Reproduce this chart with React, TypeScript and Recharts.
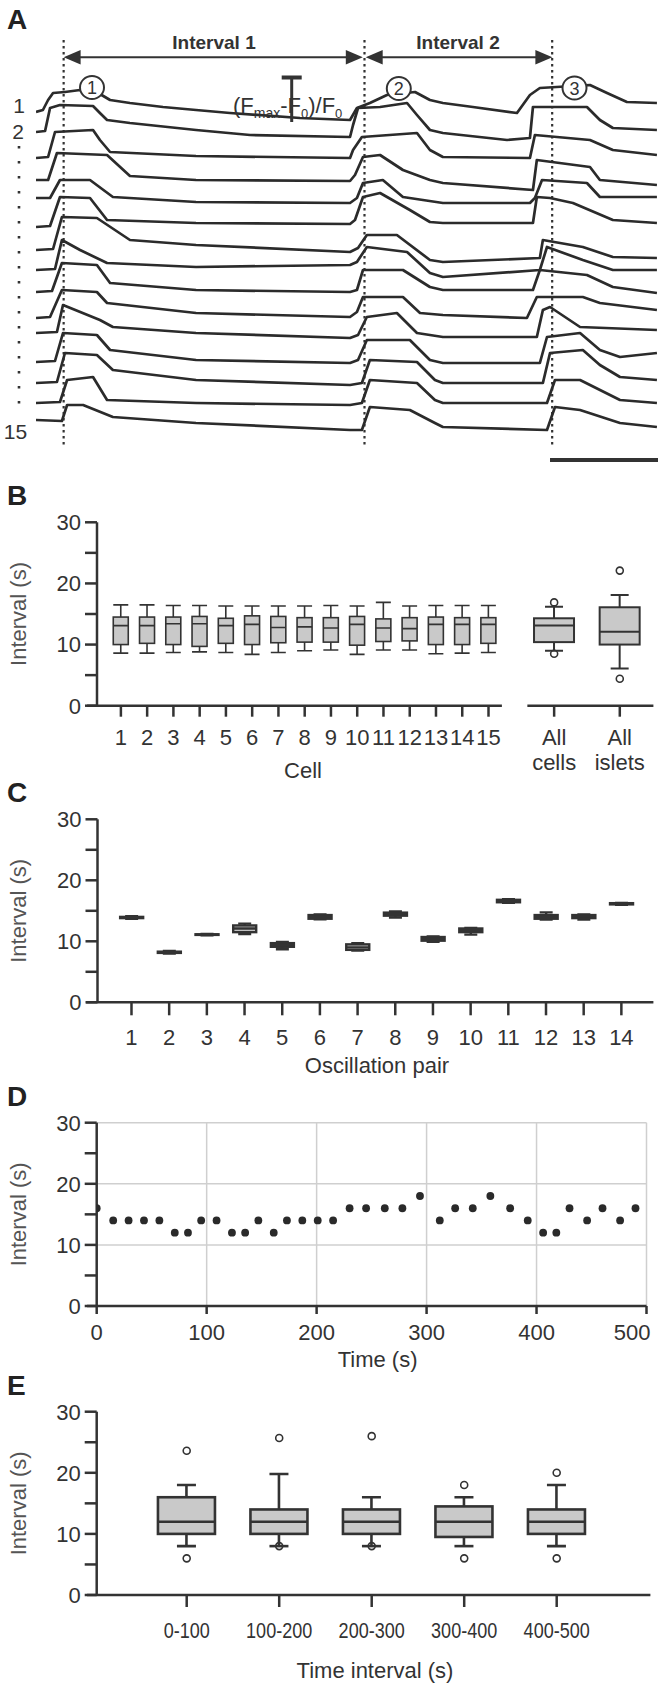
import React from "react"
import { ComposedChart, LineChart, Line, Bar, Scatter, XAxis, YAxis, CartesianGrid, ReferenceLine } from "recharts"

const FONT = "'Liberation Sans', Arial, Helvetica, sans-serif"
const INK = "#333"
const TRACE = "#2b2b2b"
const BOX_FILL = "#c9c9c9"

// ---------- A: Ca2+ traces, [time (s), dF/F (a.u.)] ----------
const trace1 = [[0,0],[0.32,2],[0.56,12],[0.79,19],[1.34,20],[2.04,22],[2.96,18],[3.43,12],[4.35,9],[5.88,5],[7.41,2],[8.98,-1],[12.22,-6],[14.54,-8],[14.86,4],[15.46,9],[16.25,17],[17.55,20],[18.24,12],[18.84,9],[20.23,5],[22.27,-1],[22.87,17],[23.33,24],[25.65,27],[26.44,19],[27.36,10],[28.75,9]]
const trace2 = [[0,2],[0.42,3],[0.65,26],[1.11,29],[2.64,28],[2.96,21],[3.29,14],[4.35,11],[7.41,4],[9.91,-1],[14.54,-3],[14.68,9],[14.91,26],[15.93,27],[17.18,31],[17.64,19],[18.24,4],[18.84,1],[21.81,-6],[22.87,-4],[23.01,27],[25.51,27],[26.11,14],[26.71,6],[28.75,4]]
const trace3 = [[0,-2],[0.56,-1],[0.88,24],[2.64,26],[2.96,16],[3.43,4],[7.41,0],[14.54,-2],[14.68,6],[15.09,19],[17.64,23],[18.24,6],[18.84,-1],[22.87,-2],[23.1,21],[25.65,16],[26.71,6],[28.75,1]]
const trace4 = [[0,-2],[0.56,-2],[0.97,25],[3.29,23],[4.35,2],[7.41,-2],[14.54,-3],[14.77,3],[15.14,21],[15.93,23],[16.99,8],[18.24,-2],[18.84,-5],[23.01,-12],[23.19,18],[25.65,11],[26.11,-2],[28.75,-7]]
const trace5 = [[0,2],[0.65,2],[1.11,20],[2.5,20],[3.56,3],[7.41,-2],[14.54,-3],[14.86,2],[15.14,17],[16.06,20],[16.99,3],[18.84,-3],[22.87,-3],[23.1,2],[23.43,20],[25.51,17],[26.11,3],[28.75,3]]
const trace6 = [[0,-5],[0.65,-4],[1.11,25],[2.5,24],[3.29,2],[7.41,-1],[14.54,-2],[14.77,2],[15.14,25],[15.93,29],[17.31,12],[18.24,0],[18.84,-1],[23.01,-1],[23.19,25],[23.8,24],[24.86,19],[26.71,2],[28.75,-1]]
const trace7 = [[0,-6],[0.79,-5],[1.2,27],[2.82,26],[4.35,4],[7.41,-1],[14.54,-8],[14.91,-4],[15.32,9],[16.71,9],[18.24,-16],[18.84,-18],[23.33,-14],[23.47,4],[25.32,-3],[26.71,-13],[28.75,-14]]
const trace8 = [[0,-4],[0.88,-3],[1.2,26],[2.04,16],[3.29,3],[7.41,-1],[14.54,1],[14.86,4],[15.32,19],[17.18,14],[18.24,-7],[18.84,-11],[23.33,-4],[23.66,19],[25.32,6],[26.71,-4],[28.75,-4]]
const trace9 = [[0,-4],[0.74,-3],[1.2,25],[2.82,23],[3.43,5],[7.41,-2],[14.54,-4],[14.86,-2],[15.14,18],[16.99,18],[18.24,1],[18.84,-2],[23.01,-2],[23.33,18],[25.51,13],[26.71,1],[28.75,-5]]
const trace10 = [[0,-8],[0.65,-7],[1.2,20],[2.82,18],[3.29,7],[7.41,-3],[14.54,-7],[14.86,-2],[15.14,13],[16.99,13],[17.78,-3],[18.84,-5],[22.73,-8],[23.19,13],[25.32,13],[26.11,7],[28.75,0]]
const trace11 = [[0,-1],[0.97,0],[1.25,27],[2.96,12],[3.56,5],[7.41,-1],[14.54,-6],[14.91,-3],[15.32,15],[16.71,19],[17.64,-1],[18.84,-5],[23.19,-5],[23.47,22],[23.8,25],[25.19,5],[28.75,2]]
const trace12 = [[0,-8],[0.88,-7],[1.25,21],[2.82,19],[3.43,4],[7.41,-6],[14.54,-9],[14.91,-6],[15.32,14],[17.31,14],[18.24,-6],[18.84,-9],[23.33,-9],[23.66,17],[25.19,21],[26.11,4],[27.04,-3],[28.75,1]]
const trace13 = [[0,-7],[0.97,-6],[1.34,23],[2.82,21],[3.56,6],[7.41,-4],[14.54,-9],[15.09,-7],[15.46,16],[17.64,14],[18.47,-4],[18.84,-7],[23.47,-7],[23.8,23],[25.32,26],[26.11,11],[27.04,-1],[28.75,-4]]
const trace14 = [[0,-5],[1.11,-4],[1.44,18],[2.64,21],[3.29,-2],[7.41,-5],[14.54,-7],[15.09,-5],[15.46,18],[17.64,15],[18.47,-2],[18.84,-5],[23.66,-5],[24.03,18],[25.19,18],[27.04,-2],[28.75,-5]]
const trace15 = [[0,0],[1.2,-1],[1.44,15],[2.18,15],[3.56,3],[7.41,-3],[14.54,-10],[15.09,-10],[15.46,13],[17.31,10],[18.47,-3],[18.84,-7],[23.66,-10],[24.03,13],[25.19,10],[27.04,-3],[28.75,-7]]
const traces = [trace1, trace2, trace3, trace4, trace5, trace6, trace7, trace8, trace9, trace10, trace11, trace12, trace13, trace14, trace15]
const traceSpacing = 22
const eventTimes = [1.28, 15.21, 23.9]
const scaleBarSec = [23.8, 28.8] // 5 s

// ---------- B: interval per cell ----------
const cellLabels = ["1","2","3","4","5","6","7","8","9","10","11","12","13","14","15"]
const cellMin = [8.6,8.6,8.7,8.8,8.7,8.4,8.7,9.0,9.1,8.4,9.1,9.1,8.5,8.6,8.7]
const cellQ1 = [10.0,10.2,10.0,9.7,10.2,10.0,10.3,10.4,10.4,9.9,10.5,10.6,10.0,10.0,10.2]
const cellMedian = [13.1,13.1,13.4,13.4,13.1,13.3,12.8,12.9,12.7,13.3,12.7,12.6,13.3,13.3,13.3]
const cellQ3 = [14.5,14.5,14.5,14.6,14.3,14.7,14.6,14.4,14.4,14.6,14.2,14.4,14.5,14.4,14.4]
const cellMax = [16.5,16.5,16.4,16.4,16.3,16.3,16.3,16.3,16.4,16.3,16.9,16.3,16.4,16.4,16.4]
const summaryLabels = ["All cells", "All islets"]
const summaryMin = [9.0, 6.1]
const summaryQ1 = [10.4, 10.0]
const summaryMedian = [13.1, 12.1]
const summaryQ3 = [14.3, 16.1]
const summaryMax = [16.2, 18.1]
const summaryOutliers = [[16.9, 8.5], [22.1, 4.4]]

// ---------- C: interval per oscillation pair ----------
const pairLabels = ["1","2","3","4","5","6","7","8","9","10","11","12","13","14"]
const pairMin = [13.7,8.0,11.0,11.2,8.7,13.6,8.5,13.9,9.9,11.1,16.3,13.55,13.55,16.0]
const pairQ1 = [13.8,8.1,11.05,11.5,9.1,13.7,8.6,14.2,10.1,11.5,16.4,13.7,13.8,16.05]
const pairMedian = [13.9,8.2,11.1,12.1,9.4,14.0,9.0,14.5,10.4,11.8,16.6,14.0,14.1,16.2]
const pairQ3 = [14.0,8.3,11.15,12.6,9.7,14.3,9.5,14.7,10.7,12.1,16.8,14.3,14.3,16.25]
const pairMax = [14.1,8.4,11.2,12.9,9.9,14.4,9.7,14.9,10.8,12.2,16.9,14.75,14.4,16.3]

// ---------- D: interval vs time ----------
const dTime = [0,15,29,43,57,71,83,95,109,123,135,147,161,173,187,201,215,230,245,262,278,294,312,326,342,358,376,392,406,418,430,446,460,476,490]
const dInterval = [16,14,14,14,14,12,12,14,14,12,12,14,12,14,14,14,14,16,16,16,16,18,14,16,16,18,16,14,12,12,16,14,16,14,16]
const dTicks = [0,100,200,300,400,500]

// ---------- E: interval per time window ----------
const windowLabels = ["0-100","100-200","200-300","300-400","400-500"]
const windowMin = [8,8,8,8,8]
const windowQ1 = [10,10,10,9.5,10]
const windowMedian = [12,12,12,12,12]
const windowQ3 = [16,14,14,14.5,14]
const windowMax = [18,19.8,16,16,18]
const windowOutHigh = [23.6,25.7,26,18,20]
const windowOutLow = [6,8,8,6,6]

const yTicks = [0,5,10,15,20,25,30]

// tables for the charts
const bRows = [
  ...cellLabels.map((label, i) => ({ pos: i + 1, label, min: cellMin[i], q1: cellQ1[i], median: cellMedian[i], q3: cellQ3[i], max: cellMax[i], group: "cell" })),
  ...summaryLabels.map((label, i) => ({ pos: 17.5 + i * 2.5, label, min: summaryMin[i], q1: summaryQ1[i], median: summaryMedian[i], q3: summaryQ3[i], max: summaryMax[i], group: "summary" })),
]
const bOutliers = summaryOutliers.flatMap((vals, i) => vals.map((v) => ({ pos: 17.5 + i * 2.5, v })))
const cRows = pairLabels.map((label, i) => ({ pos: i + 1, label, min: pairMin[i], q1: pairQ1[i], median: pairMedian[i], q3: pairQ3[i], max: pairMax[i], group: "pair" }))
const dRows = dTime.map((t, i) => ({ t, v: dInterval[i] }))
const eRows = windowLabels.map((label, i) => ({ pos: i + 1, label, min: windowMin[i], q1: windowQ1[i], median: windowMedian[i], q3: windowQ3[i], max: windowMax[i], group: "window" }))
const eOutliers = windowLabels.flatMap((_, i) => [{ pos: i + 1, v: windowOutHigh[i] }, { pos: i + 1, v: windowOutLow[i] }])

const yAxisProps = (width: number) => ({
  type: "number" as const,
  domain: [0, 30],
  ticks: yTicks,
  interval: 0,
  allowDataOverflow: true,
  tickFormatter: (v: number) => (v % 10 === 0 ? String(v) : ""),
  width,
  tickSize: 12,
  tickMargin: 4,
  axisLine: { stroke: INK, strokeWidth: 2.5 },
  tickLine: { stroke: INK, strokeWidth: 2.5 },
  tick: { fill: INK, fontSize: 22, fontFamily: FONT },
})

type BoxStyle = { box: number; cap: number; sw: number; wideBox?: number; wideCap?: number; wideSw?: number }

function boxShape(st: BoxStyle) {
  return (props: any) => {
    const { x, width, y, height, payload } = props
    if (!payload) return <g />
    const wide = payload.group === "summary"
    const bw = wide ? st.wideBox! : st.box
    const cw = wide ? st.wideCap! : st.cap
    const sw = wide ? st.wideSw! : st.sw
    const cx = x + width / 2
    const top = Math.min(y, y + height)
    const span = Math.abs(height)
    const py = (v: number) => top + (span * (payload.max - v)) / (payload.max - payload.min)
    const yMax = py(payload.max)
    const yQ3 = py(payload.q3)
    const yMed = py(payload.median)
    const yQ1 = py(payload.q1)
    const yMin = py(payload.min)
    return (
      <g stroke={INK} strokeWidth={sw}>
        <line x1={cx} x2={cx} y1={yMax} y2={yQ3} />
        <line x1={cx} x2={cx} y1={yQ1} y2={yMin} />
        <line x1={cx - cw / 2} x2={cx + cw / 2} y1={yMax} y2={yMax} />
        <line x1={cx - cw / 2} x2={cx + cw / 2} y1={yMin} y2={yMin} />
        <rect x={cx - bw / 2} y={yQ3} width={bw} height={Math.max(yQ1 - yQ3, 0.5)} fill={BOX_FILL} />
        <line x1={cx - bw / 2} x2={cx + bw / 2} y1={yMed} y2={yMed} />
      </g>
    )
  }
}

const openCircle = (props: any) => <circle cx={props.cx} cy={props.cy} r={3.5} fill="none" stroke={INK} strokeWidth={1.6} />
const solidDot = (props: any) => <circle cx={props.cx} cy={props.cy} r={3.9} fill="#2a2a2a" />

function PanelA() {
  return (
    <LineChart width={662} height={470} margin={{ top: 40, right: 4, left: 36, bottom: 8 }}>
      <XAxis type="number" dataKey="t" domain={[0, 28.8]} hide allowDataOverflow />
      <YAxis type="number" domain={[-350, 72]} hide allowDataOverflow />
      {eventTimes.map((t, i) => (
        <ReferenceLine key={"ev" + i} segment={[{ x: t, y: 72 }, { x: t, y: -336 }]} stroke={INK} strokeWidth={2.2} strokeDasharray="2.5 3.5" />
      ))}
      {traces.map((tr, i) => (
        <Line
          key={"tr" + i}
          data={tr.map(([t, v]) => ({ t, y: v - i * traceSpacing }))}
          dataKey="y"
          type="linear"
          stroke={TRACE}
          strokeWidth={2.7}
          strokeLinejoin="round"
          dot={false}
          isAnimationActive={false}
        />
      ))}
      <ReferenceLine segment={[{ x: scaleBarSec[0], y: -348 }, { x: scaleBarSec[1], y: -348 }]} stroke={INK} strokeWidth={4} />
    </LineChart>
  )
}

function PanelB() {
  const labelFor = (v: number) => bRows.find((r) => r.pos === v)?.label ?? ""
  return (
    <ComposedChart width={662} height={310} data={bRows} margin={{ top: 42.3, right: 8.6, left: 0, bottom: 0 }}>
      <XAxis
        type="number"
        dataKey="pos"
        domain={[0.09, 21.28]}
        ticks={bRows.map((r) => r.pos)}
        interval={0}
        allowDataOverflow
        height={84.3}
        axisLine={false}
        tickSize={11}
        tickMargin={0}
        tickLine={{ stroke: INK, strokeWidth: 2.5 }}
        tick={(p: any) => {
          const lines = labelFor(p.payload.value).split(" ")
          return (
            <text x={p.x} y={p.y} textAnchor="middle" fill={INK} fontSize={22} fontFamily={FONT}>
              {lines.map((l, i) => (
                <tspan key={i} x={p.x} dy={i === 0 ? 28.3 : 24.5}>{l}</tspan>
              ))}
            </text>
          )
        }}
      />
      <YAxis {...yAxisProps(97)} />
      <ReferenceLine segment={[{ x: -0.29, y: 0 }, { x: 15.51, y: 0 }]} stroke={INK} strokeWidth={2.5} ifOverflow="visible" />
      <ReferenceLine segment={[{ x: 16.48, y: 0 }, { x: 21.28, y: 0 }]} stroke={INK} strokeWidth={2.5} ifOverflow="visible" />
      <Bar dataKey={(d: any) => [d.min, d.max]} barSize={10} isAnimationActive={false}
        shape={boxShape({ box: 15, cap: 15, sw: 1.6, wideBox: 40, wideCap: 18, wideSw: 2 })} />
      <Scatter data={bOutliers} dataKey="v" shape={openCircle} isAnimationActive={false} />
    </ComposedChart>
  )
}

function PanelC() {
  return (
    <ComposedChart width={662} height={300} data={cRows} margin={{ top: 29.3, right: 8.6, left: 0, bottom: 0 }}>
      <XAxis
        type="number"
        dataKey="pos"
        domain={[0.098, 14.85]}
        ticks={cRows.map((r) => r.pos)}
        interval={0}
        allowDataOverflow
        height={87.7}
        axisLine={false}
        tickSize={13}
        tickMargin={0}
        tickLine={{ stroke: INK, strokeWidth: 2.5 }}
        tick={(p: any) => (
          <text x={p.x} y={p.y + 30} textAnchor="middle" fill={INK} fontSize={22} fontFamily={FONT}>
            {cRows[p.index]?.label ?? p.payload.value}
          </text>
        )}
      />
      <YAxis {...yAxisProps(97.5)} />
      <ReferenceLine segment={[{ x: -0.205, y: 0 }, { x: 14.85, y: 0 }]} stroke={INK} strokeWidth={2.5} ifOverflow="visible" />
      <Bar dataKey={(d: any) => [d.min, d.max]} barSize={10} isAnimationActive={false}
        shape={boxShape({ box: 23, cap: 13, sw: 2.4 })} />
    </ComposedChart>
  )
}

function PanelD() {
  return (
    <ComposedChart width={662} height={290} data={dRows} margin={{ top: 22.7, right: 15.5, left: 0, bottom: 0 }}>
      <CartesianGrid stroke="#cfcfcf" strokeWidth={1.5} horizontalValues={[10, 20, 30]} verticalValues={[100, 200, 300, 400, 500]} />
      <XAxis
        type="number"
        dataKey="t"
        domain={[0, 500]}
        ticks={dTicks}
        interval={0}
        allowDataOverflow
        height={84}
        axisLine={false}
        tickSize={8}
        tickMargin={0}
        tickLine={{ stroke: INK, strokeWidth: 2.5 }}
        tick={(p: any) => {
          const last = p.payload.value === dTicks[dTicks.length - 1]
          return (
            <text x={last ? p.x + 4 : p.x} y={p.y + 26} textAnchor={last ? "end" : "middle"} fill={INK} fontSize={22} fontFamily={FONT}>
              {p.payload.value}
            </text>
          )
        }}
      />
      <YAxis {...yAxisProps(96.7)} />
      <ReferenceLine segment={[{ x: -8.8, y: 0 }, { x: 500, y: 0 }]} stroke={INK} strokeWidth={2.5} ifOverflow="visible" />
      <Scatter dataKey="v" shape={solidDot} isAnimationActive={false} />
    </ComposedChart>
  )
}

function PanelE() {
  return (
    <ComposedChart width={662} height={291} data={eRows} margin={{ top: 11.7, right: 11.6, left: 0, bottom: 0 }}>
      <XAxis
        type="number"
        dataKey="pos"
        domain={[0.027, 6.013]}
        ticks={eRows.map((r) => r.pos)}
        interval={0}
        allowDataOverflow
        height={96}
        axisLine={false}
        tickSize={12}
        tickMargin={0}
        tickLine={{ stroke: INK, strokeWidth: 2.5 }}
        tick={(p: any) => (
          <text
            x={p.x}
            y={p.y + 31}
            textAnchor="middle"
            fill={INK}
            fontSize={22}
            fontFamily={FONT}
            transform={`translate(${p.x} 0) scale(0.82 1) translate(${-p.x} 0)`}
          >
            {eRows[p.index]?.label ?? p.payload.value}
          </text>
        )}
      />
      <YAxis {...yAxisProps(96.7)} />
      <ReferenceLine segment={[{ x: -0.078, y: 0 }, { x: 6.013, y: 0 }]} stroke={INK} strokeWidth={2.5} ifOverflow="visible" />
      <Bar dataKey={(d: any) => [d.min, d.max]} barSize={10} isAnimationActive={false}
        shape={boxShape({ box: 57, cap: 19, sw: 2.6 })} />
      <Scatter data={eOutliers} dataKey="v" shape={openCircle} isAnimationActive={false} />
    </ComposedChart>
  )
}

function Arrow({ x1, x2, y }: { x1: number; x2: number; y: number }) {
  const L = 17
  const H = 7.3
  return (
    <g fill={INK} stroke="none">
      <line x1={x1 + L - 1} x2={x2 - L + 1} y1={y} y2={y} stroke={INK} strokeWidth={2} />
      <polygon points={`${x1},${y} ${x1 + L},${y - H} ${x1 + L},${y + H}`} />
      <polygon points={`${x2},${y} ${x2 - L},${y - H} ${x2 - L},${y + H}`} />
    </g>
  )
}

function Overlay() {
  const letters: [string, number][] = [["A", 29.3], ["B", 505], ["C", 802], ["D", 1105.7], ["E", 1394.7]]
  const yTitleCenters = [614, 910.8, 1214.4, 1503.4]
  const circles: [string, number, number][] = [["1", 92, 87.5], ["2", 398.8, 88.5], ["3", 574.5, 88]]
  return (
    <svg width={662} height={1691} style={{ position: "absolute", left: 0, top: 0, pointerEvents: "none" }} fontFamily={FONT}>
      {letters.map(([l, y]) => (
        <text key={l} x={7} y={y} fontSize={28} fontWeight="bold" fill="#222">{l}</text>
      ))}

      {/* panel A annotations */}
      <Arrow x1={63.6} x2={362.8} y={57.3} />
      <Arrow x1={365.7} x2={552.4} y={57.3} />
      <text x={214} y={49} textAnchor="middle" fontSize={19} fontWeight="bold" fill={INK}>Interval 1</text>
      <text x={458} y={49} textAnchor="middle" fontSize={19} fontWeight="bold" fill={INK}>Interval 2</text>
      {circles.map(([n, cx, cy]) => (
        <g key={n}>
          <ellipse cx={cx} cy={cy} rx={12} ry={11.5} fill="#fff" stroke={INK} strokeWidth={2} />
          <text x={cx} y={cy + 6.5} textAnchor="middle" fontSize={18} fill={INK}>{n}</text>
        </g>
      ))}
      <rect x={281.7} y={75.5} width={20} height={4} fill={INK} />
      <line x1={291.7} x2={291.7} y1={76} y2={122} stroke={INK} strokeWidth={3} />
      <text x={233} y={113.3} fontSize={22} fill={INK}>
        (F<tspan fontSize={14} dy={5}>max</tspan><tspan dy={-5}>-F</tspan><tspan fontSize={13} dy={5}>0</tspan><tspan dy={-5}>)/F</tspan><tspan fontSize={13} dy={5}>0</tspan>
      </text>
      <text x={19} y={112.5} textAnchor="middle" fontSize={21} fill={INK}>1</text>
      <text x={18} y={139} textAnchor="middle" fontSize={21} fill={INK}>2</text>
      <line x1={19} x2={19} y1={146} y2={412} stroke={INK} strokeWidth={2.6} strokeDasharray="2.6 12.4" />
      <text x={15.5} y={439} textAnchor="middle" fontSize={21} fill={INK}>15</text>

      {/* axis titles */}
      {yTitleCenters.map((cy, i) => (
        <text key={i} transform={`translate(18 ${cy}) rotate(-90)`} textAnchor="middle" dominantBaseline="central" fontSize={22} fill="#555">
          Interval (s)
        </text>
      ))}
      <text x={303} y={778} textAnchor="middle" fontSize={22} fill={INK}>Cell</text>
      <text x={377} y={1072.5} textAnchor="middle" fontSize={22} fill={INK}>Oscillation pair</text>
      <text x={377.6} y={1367} textAnchor="middle" fontSize={22} fill={INK}>Time (s)</text>
      <text x={375} y={1677.5} textAnchor="middle" fontSize={22} fill={INK}>Time interval (s)</text>
    </svg>
  )
}

export default function App() {
  return (
    <div style={{ position: "absolute", left: 0, top: 0, width: 662, height: 1691, background: "#fff", fontFamily: FONT, overflow: "hidden" }}>
      <div style={{ position: "absolute", left: 0, top: 0 }}><PanelA /></div>
      <div style={{ position: "absolute", left: 0, top: 480 }}><PanelB /></div>
      <div style={{ position: "absolute", left: 0, top: 790 }}><PanelC /></div>
      <div style={{ position: "absolute", left: 0, top: 1100 }}><PanelD /></div>
      <div style={{ position: "absolute", left: 0, top: 1400 }}><PanelE /></div>
      <Overlay />
    </div>
  )
}
